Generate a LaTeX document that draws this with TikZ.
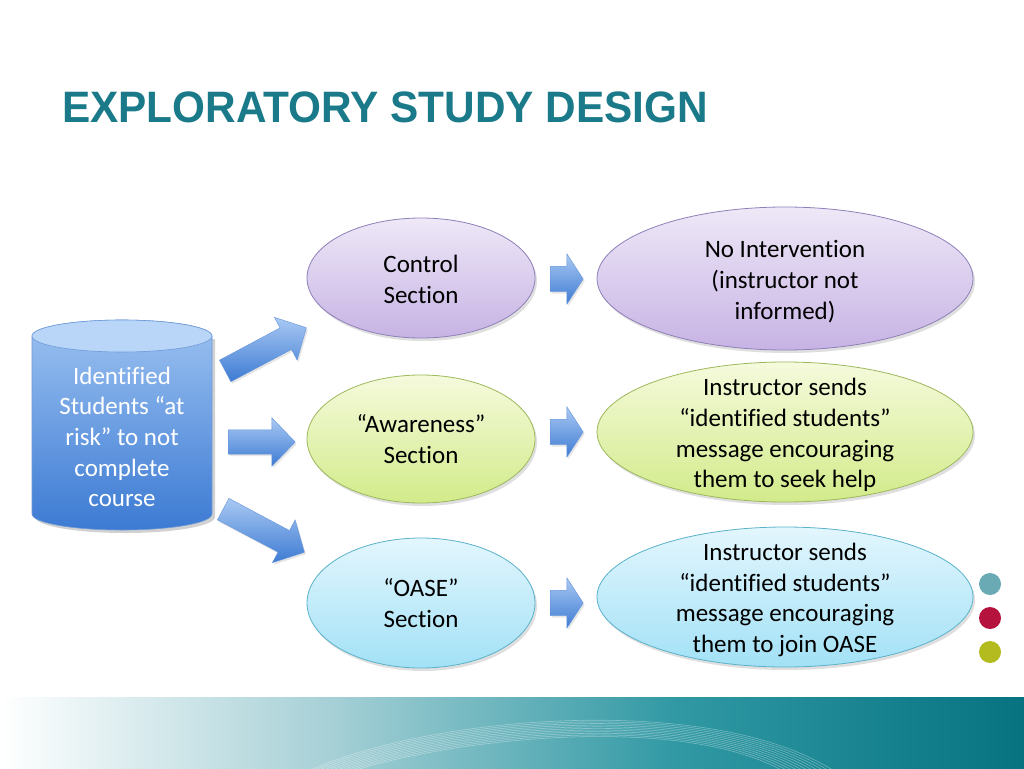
\documentclass[tikz,border=0pt]{standalone}
\usepackage{fontspec}
\setmainfont{Carlito}[Ligatures=NoCommon]
\newfontfamily\titlefont{Liberation Sans}
\usetikzlibrary{shapes.geometric,shapes.arrows,shadows}
\definecolor{titlec}{HTML}{1B7A8A}
\definecolor{purT}{HTML}{EEE8F7}\definecolor{purB}{HTML}{C7B3E4}\definecolor{purD}{HTML}{8E80B8}
\definecolor{grnT}{HTML}{F5FADC}\definecolor{grnB}{HTML}{D2EB8A}\definecolor{grnD}{HTML}{9DB85C}
\definecolor{cyaT}{HTML}{E3F6FD}\definecolor{cyaB}{HTML}{A2E1F6}\definecolor{cyaD}{HTML}{5AB2CA}
\definecolor{arrT}{HTML}{A9C9F3}\definecolor{arrB}{HTML}{3E7BD3}
\definecolor{cylT}{HTML}{9CC2F1}\definecolor{cylB}{HTML}{3C7AD3}\definecolor{cylTop}{HTML}{B9D5F7}\definecolor{cylD}{HTML}{6F9BD8}
\definecolor{dotA}{HTML}{6AAAB5}\definecolor{dotB}{HTML}{B5123E}\definecolor{dotC}{HTML}{B3BB1E}
\definecolor{bandA}{HTML}{A6D0D6}\definecolor{bandB}{HTML}{2F98A3}\definecolor{bandC}{HTML}{077381}
\tikzset{
  txt/.style={font=\fontsize{25}{30.7}\selectfont, align=center, text=black, inner sep=0pt},
  oval/.style={ellipse, inner sep=0pt, line width=0.8pt,
    drop shadow={opacity=0.25, shadow xshift=2pt, shadow yshift=-3pt}},
  purov/.style={oval, draw=purD, top color=purT, bottom color=purB},
  grnov/.style={oval, draw=grnD, top color=grnT, bottom color=grnB},
  cyaov/.style={oval, draw=cyaD, top color=cyaT, bottom color=cyaB},
  bigarr/.style={single arrow, anchor=tail, inner xsep=0pt, inner ysep=12pt, single arrow head extend=12pt,
    single arrow tip angle=92, minimum height=#1, top color=arrT, bottom color=arrB, draw=arrB!80!white, line width=0.4pt,
    drop shadow={opacity=0.2, shadow xshift=1.5pt, shadow yshift=-2pt}},
  smallarr/.style={single arrow, anchor=tail, inner xsep=0pt, inner ysep=12.5pt, single arrow head extend=12.5pt,
    single arrow tip angle=114, minimum height=33pt, top color=arrT, bottom color=arrB, draw=arrB!80!white, line width=0.4pt,
    drop shadow={opacity=0.2, shadow xshift=1.5pt, shadow yshift=-2pt}},
  dot/.style={circle, inner sep=0pt, minimum size=22pt, fill=#1}
}
\begin{document}
\begin{tikzpicture}[x=1pt,y=-1pt]
\useasboundingbox (0,0) rectangle (1024,768);
\fill[white] (0,0) rectangle (1024,768);

% title
\node[anchor=base west, inner sep=0pt, text=titlec, font=\titlefont\bfseries\fontsize{44}{50}\selectfont] (title) at (62,122) {\scalebox{0.962}[1]{EXPLORATORY STUDY DESIGN}};

% cylinder
\fill[black, opacity=0.18] (35,339) -- (35,517) arc[start angle=180, end angle=360, x radius=90, y radius=-16] -- (215,339) -- cycle;
\path[top color=cylT, bottom color=cylB, draw=cylD, line width=0.6pt] (32,336) -- (32,514) arc[start angle=180, end angle=360, x radius=90, y radius=-16] -- (212,336) arc[start angle=0, end angle=180, x radius=90, y radius=-16] -- cycle;
\draw[fill=cylTop, draw=cylD, line width=0.6pt] (122,336) ellipse[x radius=90, y radius=16];
\node[txt, text=white] (src) at (122,437) {Identified\\Students “at\\risk” to not\\complete\\course};

% left column
\node[purov, minimum width=228pt, minimum height=120pt] (ctrl) at (421,278) {};
\node[txt, yshift=-1.5pt] (ctrlT) at (ctrl.center) {Control\\Section};
\node[grnov, minimum width=228pt, minimum height=128pt] (aware) at (421,439) {};
\node[txt] (awareT) at (aware.center) {“Awareness”\\Section};
\node[cyaov, minimum width=228pt, minimum height=130pt] (oase) at (421,603) {};
\node[txt] (oaseT) at (oase.center) {“OASE”\\Section};

% right column
\node[purov, minimum width=376pt, minimum height=143pt] (noint) at (785,278.5) {};
\node[txt, yshift=-3pt] (nointT) at (noint.center) {No Intervention\\(instructor not\\informed)};
\node[grnov, minimum width=376pt, minimum height=140pt] (seek) at (785,432) {};
\node[txt, yshift=-3pt] (seekT) at (seek.center) {Instructor sends\\“identified students”\\message encouraging\\them to seek help};
\node[cyaov, minimum width=376pt, minimum height=140pt] (join) at (785,597) {};
\node[txt, yshift=-3pt] (joinT) at (join.center) {Instructor sends\\“identified students”\\message encouraging\\them to join OASE};

% big arrows
\node[bigarr=92pt, rotate=28] (a1) at (225,371) {};
\node[bigarr=67pt] (a2) at (228,442) {};
\node[bigarr=92pt, rotate=-28] (a3) at (223,509) {};

% small arrows
\node[smallarr] (s1) at (550,279) {};
\node[smallarr] (s2) at (550,432) {};
\node[smallarr] (s3) at (550,603) {};

% dots
\node[dot=dotA] (d1) at (990,584) {};
\node[dot=dotB] (d2) at (990,618) {};
\node[dot=dotC] (d3) at (990,652) {};

% bottom band
\begin{scope}
\clip (0,697) rectangle (1024,768);
\shade[left color=white, right color=bandA] (0,697) rectangle (330,768);
\shade[left color=bandA, right color=bandB] (330,697) rectangle (680,768);
\shade[left color=bandB, right color=bandC] (680,697) rectangle (1024,768);
\foreach \i in {0,...,10}{
  \draw[white, opacity=0.35, line width=0.6pt] (300+\i*4,775) .. controls (420+\i*3,715+\i*2.2) and (720-\i*3,690+\i*2.2) .. (840-\i*5,775);
}
\end{scope}
\end{tikzpicture}
\end{document}
